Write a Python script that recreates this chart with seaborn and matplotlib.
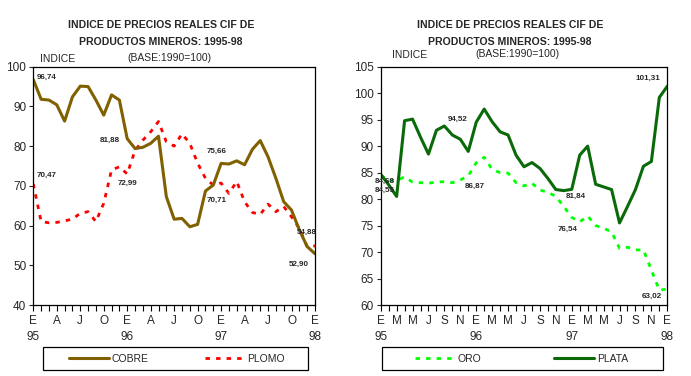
import numpy as np
import pandas as pd
import matplotlib
matplotlib.use("Agg")
import matplotlib.pyplot as plt
from matplotlib.lines import Line2D
from matplotlib.patches import Rectangle
import seaborn as sns

# monthly index values, Jan 95 .. Jan 98 (37 months)
months = list(range(37))

cobre = [96.74, 91.8, 91.6, 90.4, 86.3, 92.4, 95.1, 95.0, 91.6, 87.8, 92.9, 91.6,
         81.88, 79.4, 79.7, 80.7, 82.5, 67.3, 61.6, 61.8, 59.7, 60.3, 68.7, 70.2,
         75.66, 75.5, 76.3, 75.3, 79.2, 81.4, 77.3, 71.9, 66.0, 63.9, 58.9, 54.7, 52.90]
plomo = [70.47, 61.0, 60.7, 60.8, 61.2, 61.6, 63.1, 63.5, 61.0, 65.6, 74.0, 74.8,
         72.99, 78.9, 81.5, 83.6, 86.2, 81.1, 80.0, 83.1, 80.7, 75.7, 71.9, 70.2,
         70.71, 68.1, 71.1, 66.0, 63.3, 62.8, 65.4, 63.5, 64.8, 62.2, 59.3, 54.7, 54.88]
plata = [84.68, 82.7, 80.5, 94.8, 95.1, 91.7, 88.5, 93.0, 93.8, 92.1, 91.3, 89.0,
         94.52, 97.0, 94.6, 92.7, 92.1, 88.3, 86.1, 86.9, 85.8, 83.9, 81.8, 81.6,
         81.84, 88.3, 90.0, 82.8, 82.3, 81.8, 75.5, 78.6, 81.8, 86.2, 87.1, 99.2, 101.31]
oro = [84.55, 83.5, 83.5, 84.2, 83.2, 83.1, 83.0, 83.2, 83.3, 83.1, 83.6, 84.4,
       86.87, 87.9, 85.6, 85.0, 84.9, 83.1, 82.5, 83.0, 81.7, 81.3, 80.5, 78.6,
       76.54, 75.7, 76.8, 75.0, 74.5, 73.8, 70.7, 70.9, 70.4, 70.4, 66.6, 62.8, 63.02]

left_ticks = list(range(0, 37, 3))
left_labels = ["E\n95", "A", "J", "O", "E\n96", "A", "J", "O", "E\n97", "A", "J", "O", "E\n98"]
right_ticks = list(range(0, 37, 2))
right_labels = ["E\n95", "M", "M", "J", "S", "N", "E\n96", "M", "M", "J", "S", "N",
                "E\n97", "M", "M", "J", "S", "N", "E\n98"]

# (text, month, value) annotations
left_notes = [("96,74", 0.47, 97.4, "left"), ("70,47", 0.47, 72.7, "left"),
              ("81,88", 9.8, 81.4, "center"), ("72,99", 12.0, 70.7, "center"),
              ("75,66", 23.4, 78.8, "center"), ("70,71", 23.4, 66.4, "center"),
              ("54,88", 35.0, 58.2, "center"), ("52,90", 33.9, 50.3, "center")]
right_notes = [("84,68", 0.54, 83.3, "center"), ("84,55", 0.54, 81.6, "center"),
               ("94,52", 9.65, 95.1, "center"), ("86,87", 11.8, 82.5, "center"),
               ("81,84", 24.5, 80.5, "center"), ("76,54", 23.5, 74.3, "center"),
               ("101,31", 33.5, 102.8, "center"), ("63,02", 34.0, 61.7, "center")]

C_COBRE = "#806000"
C_PLOMO = "#ff0000"
C_PLATA = "#0a6a0a"
C_ORO = "#00ff00"

sns.set_style("white")
plt.rcParams['font.family'] = ['Liberation Sans', 'DejaVu Sans']

df_left = pd.DataFrame({"mes": months, "COBRE": cobre, "PLOMO": plomo})
df_right = pd.DataFrame({"mes": months, "ORO": oro, "PLATA": plata})

fig = plt.figure(figsize=(6.91, 3.76), dpi=100)
ax1 = fig.add_axes([33.3 / 691, 1 - 305 / 376, 281.7 / 691, 238.3 / 376])
ax2 = fig.add_axes([380.7 / 691, 1 - 305 / 376, 286.6 / 691, 238.3 / 376])

dash = (1.6, 2.2)
sns.lineplot(data=df_left, x="mes", y="PLOMO", ax=ax1, color=C_PLOMO, lw=2.0)
ax1.lines[-1].set_dashes(dash)
sns.lineplot(data=df_left, x="mes", y="COBRE", ax=ax1, color=C_COBRE, lw=2.2)
sns.lineplot(data=df_right, x="mes", y="ORO", ax=ax2, color=C_ORO, lw=2.0)
ax2.lines[-1].set_dashes(dash)
sns.lineplot(data=df_right, x="mes", y="PLATA", ax=ax2, color=C_PLATA, lw=2.2)


def style_ax(ax, ylim, yticks, ticks, labels, notes):
    ax.set_xlim(0, 36)
    ax.set_ylim(*ylim)
    ax.set_yticks(yticks)
    ax.set_xticks(ticks)
    ax.set_xticklabels(labels, fontsize=8.5, linespacing=1.5)
    ax.set_xticks(months, minor=True)
    ax.tick_params(axis="x", which="both", direction="out", length=4, width=0.8,
                   bottom=True, color="black", pad=3)
    ax.tick_params(axis="y", direction="out", length=3, width=0.8, left=True,
                   labelsize=8.5, pad=2)
    ax.set_xlabel("")
    ax.set_ylabel("")
    for s in ax.spines.values():
        s.set_visible(True)
        s.set_color("black")
        s.set_linewidth(0.9)
    for txt, x, y, ha in notes:
        ax.text(x, y, txt, fontsize=5.8, fontweight="bold", ha=ha, va="center")


style_ax(ax1, (40, 100), range(40, 101, 10), left_ticks, left_labels, left_notes)
style_ax(ax2, (60, 105), range(60, 106, 5), right_ticks, right_labels, right_notes)

# titles
for cx, ix, bx, by, iy in [(161, 40, 169, 58, 59), (510, 392, 517, 54, 55)]:
    fig.text(cx / 691, 1 - 25 / 376, "INDICE DE PRECIOS REALES CIF DE", ha="center",
             va="center", fontsize=7.6, fontweight="bold")
    fig.text(cx / 691, 1 - 42 / 376, "PRODUCTOS MINEROS: 1995-98", ha="center",
             va="center", fontsize=7.6, fontweight="bold")
    fig.text(bx / 691, 1 - by / 376, "(BASE:1990=100)", ha="center", va="center", fontsize=7.5)
    fig.text(ix / 691, 1 - iy / 376, "INDICE", ha="left", va="center", fontsize=7.5)

# legends: frame drawn as a rectangle, entries placed inside it
h_cobre = Line2D([], [], color=C_COBRE, lw=2.2)
h_plomo = Line2D([], [], color=C_PLOMO, lw=2.0, dashes=dash)
h_oro = Line2D([], [], color=C_ORO, lw=2.0, dashes=dash)
h_plata = Line2D([], [], color=C_PLATA, lw=2.2)
for handles, names, bx0, bx1, ex0, ex1 in [
        ([h_cobre, h_plomo], ["COBRE", "PLOMO"], 43, 308, 69, 285),
        ([h_oro, h_plata], ["ORO", "PLATA"], 382, 663, 415, 628)]:
    fig.patches.append(Rectangle((bx0 / 691, 1 - 370 / 376), (bx1 - bx0) / 691, 23 / 376,
                                 transform=fig.transFigure, fill=False,
                                 edgecolor="black", lw=0.9))
    fig.legend(handles, names, ncol=2, mode="expand", loc="center left",
               bbox_to_anchor=(ex0 / 691, 1 - 370 / 376, (ex1 - ex0) / 691, 23 / 376),
               frameon=False, fontsize=7.5, handlelength=3.8, handletextpad=0.3,
               borderpad=0, borderaxespad=0)

fig.savefig("out.png", dpi=100, facecolor="white")
